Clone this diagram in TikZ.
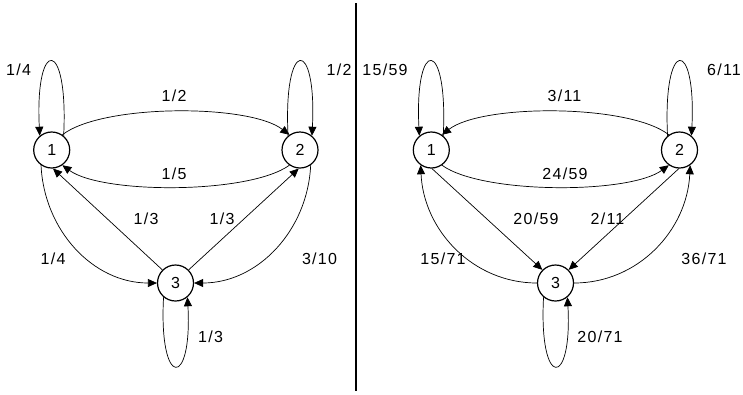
\documentclass[tikz,border=0pt]{standalone}
\usepackage{fontspec}
\newfontfamily\lbl[LetterSpace=8]{Liberation Sans}
\newcommand\lblfont{\lbl\fontsize{16pt}{19pt}\selectfont}
\usetikzlibrary{arrows.meta}
\tikzstyle{state} = [circle, draw, line width=1.2pt, minimum size=36pt,
  inner sep=0pt, font=\lblfont]
\tikzstyle{prob} = [font=\lblfont, inner sep=1pt]
\tikzstyle{line} = [draw, line width=0.7pt, -{Triangle[length=9pt,width=8pt]}]

\begin{document}
\begin{tikzpicture}[x=1pt, y=-1pt]
\useasboundingbox (0,0) rectangle (743,394);

% ==========================================
% LEFT CHAIN
% ==========================================
\node[state] (l1) at (51.7,150) {1};
\node[state] (l2) at (300,150) {2};
\node[state] (l3) at (175.5,283) {3};

% self loops
\draw[line] (l1.50) .. controls +(5,-99) and +(-5,-99) .. (l1.130);
\draw[line] (l2.130) .. controls +(-5,-99) and +(5,-99) .. (l2.50);
\draw[line] (l3.230) .. controls +(-5,92) and +(5,92) .. (l3.310);

% arcs between 1 and 2
\draw[line] (l1.55) .. controls +(40,-31) and +(-40,-31) .. (l2.125);
\draw[line] (l2.235) .. controls +(-40,29) and +(40,29) .. (l1.305);

% to and from 3
\draw[line] (l3.135) -- (l1.274);
\draw[line] (l3.45) -- (l2.266);
\draw[line] (l1.235) .. controls +(3,65) and +(-64,0) .. (l3.west);
\draw[line] (l2.305) .. controls +(-3,65) and +(64,0) .. (l3.east);

\node[prob] (p11) at (18.5,70) {1/4};
\node[prob] (p22) at (339,70) {1/2};
\node[prob] (p12) at (174,96) {1/2};
\node[prob] (p21) at (174,174) {1/5};
\node[prob] (p31) at (146,219) {1/3};
\node[prob] (p32) at (222,219) {1/3};
\node[prob] (p13) at (53,259) {1/4};
\node[prob] (p23) at (319.5,259) {3/10};
\node[prob] (p33) at (210.5,337) {1/3};

% divider
\draw[line width=1.3pt] (356,3) -- (356,391);

% ==========================================
% RIGHT CHAIN (reversed)
% ==========================================
\node[state] (r1) at (431.3,150) {1};
\node[state] (r2) at (679.5,150) {2};
\node[state] (r3) at (555.5,283) {3};

% self loops
\draw[line] (r1.50) .. controls +(5,-99) and +(-5,-99) .. (r1.130);
\draw[line] (r2.130) .. controls +(-5,-99) and +(5,-99) .. (r2.50);
\draw[line] (r3.230) .. controls +(-5,92) and +(5,92) .. (r3.310);

% arcs between 1 and 2
\draw[line] (r2.125) .. controls +(-40,-31) and +(40,-31) .. (r1.55);
\draw[line] (r1.305) .. controls +(40,29) and +(-40,29) .. (r2.235);

% to and from 3
\draw[line] (r1.272) -- (r3.135);
\draw[line] (r2.268) -- (r3.45);
\draw[line] (r3.west) .. controls +(-64,0) and +(3,65) .. (r1.235);
\draw[line] (r3.east) .. controls +(64,0) and +(-3,65) .. (r2.305);

\node[prob] (q11) at (385,70) {15/59};
\node[prob] (q22) at (724,70) {6/11};
\node[prob] (q21) at (564.5,96) {3/11};
\node[prob] (q12) at (565,174) {24/59};
\node[prob] (q13) at (536,219) {20/59};
\node[prob] (q23) at (607.5,219) {2/11};
\node[prob] (q31) at (443,259) {15/71};
\node[prob] (q32) at (704,259) {36/71};
\node[prob] (q33) at (600,337) {20/71};

\end{tikzpicture}
\end{document}
